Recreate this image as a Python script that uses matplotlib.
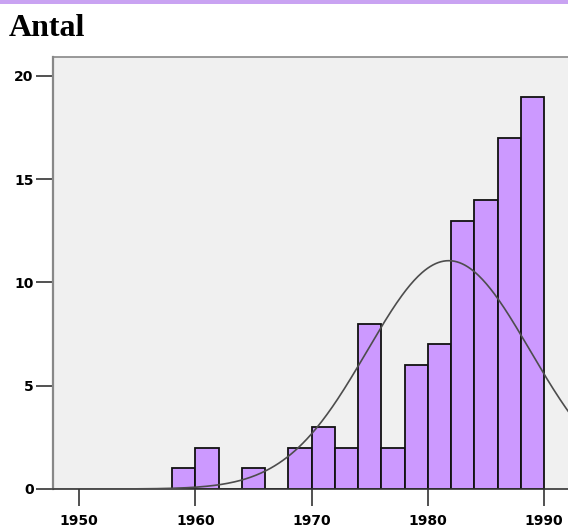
import numpy as np
import matplotlib.pyplot as plt
from matplotlib.patches import Rectangle

# histogram bins (2-year bins) and counts
bin_starts = [1958, 1960, 1962, 1964, 1966, 1968, 1970, 1972, 1974, 1976, 1978, 1980, 1982, 1984, 1986, 1988]
counts = [1, 2, 0, 1, 0, 2, 3, 2, 8, 2, 6, 7, 13, 14, 17, 19]
bin_width = 2
x_ticks = [1950, 1960, 1970, 1980, 1990]
y_ticks = [0, 5, 10, 15, 20]

# normal curve parameters
curve_mean = 1981.8
curve_sd = 7.0
n_total = sum(counts)

W, H = 568, 529
fig = plt.figure(figsize=(W / 100, H / 100), dpi=100)

# purple band at the top
fig.add_artist(Rectangle((0, 1 - 4 / H), 1, 4 / H, transform=fig.transFigure,
                         facecolor='#c9a3f2', edgecolor='none'))
fig.text(9 / W, 1 - 28 / H, "Antal", fontsize=23, fontweight='bold',
         family='Liberation Serif', va='center', ha='left')

ax = fig.add_axes([53 / W, 1 - 489 / H, (W - 53) / W, (489 - 57) / H])
ax.set_facecolor('#f0f0f0')

ax.bar(bin_starts, counts, width=bin_width, align='edge', color='#cc99ff',
       edgecolor='#111111', linewidth=1.3, zorder=2)

xs = np.linspace(1947, 1993, 400)
ys = n_total * bin_width / (curve_sd * np.sqrt(2 * np.pi)) * np.exp(-0.5 * ((xs - curve_mean) / curve_sd) ** 2)
ax.plot(xs, ys, color='#4d4d4d', linewidth=1.2, zorder=3)

ax.set_xlim(1947.76, 1992.06)
ax.set_ylim(0, 20.92)
ax.set_xticks(x_ticks)
ax.set_yticks(y_ticks)
ax.tick_params(axis='both', length=12, width=1.2, color='#333333', labelsize=10)
ax.tick_params(axis='x', pad=6)
ax.tick_params(axis='y', pad=2)
for lab in ax.get_xticklabels() + ax.get_yticklabels():
    lab.set_fontweight('bold')

ax.spines['left'].set_color('#888888')
ax.spines['left'].set_linewidth(1.6)
ax.spines['top'].set_color('#888888')
ax.spines['top'].set_linewidth(1.2)
ax.spines['right'].set_visible(False)
ax.spines['bottom'].set_color('#333333')
ax.spines['bottom'].set_linewidth(1.2)

fig.savefig('out.png', dpi=100)
